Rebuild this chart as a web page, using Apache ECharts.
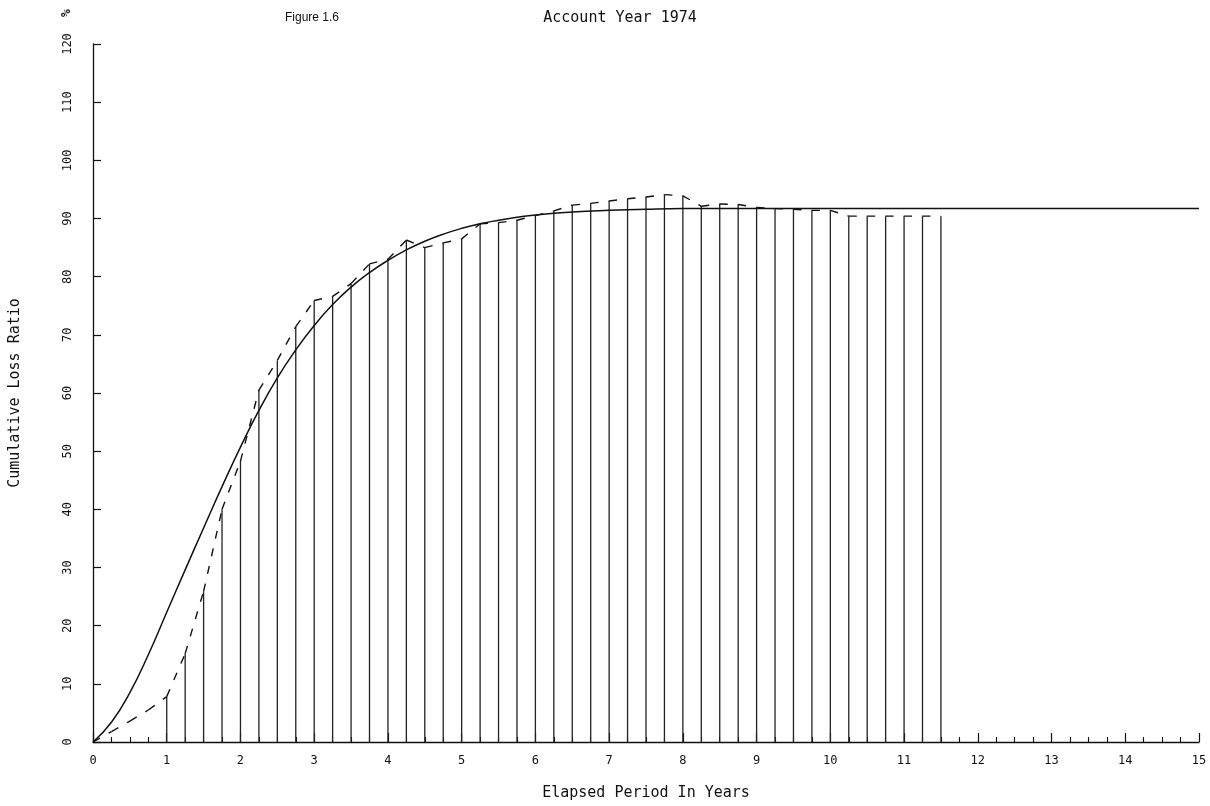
<!DOCTYPE html>
<html>
<head>
<meta charset="utf-8">
<script src="https://cdn.jsdelivr.net/npm/echarts@6/dist/echarts.min.js"></script>
<style>
html,body{margin:0;padding:0;background:#fff;}
#chart{width:1210px;height:806px;}
</style>
</head>
<body>
<div id="chart"></div>
<script>
// Observed cumulative loss ratio (dashed line), quarterly elapsed periods
var obsX = [0, 0.25, 0.5, 0.75, 1, 1.25, 1.5, 1.75, 2, 2.25, 2.5, 2.75, 3, 3.25, 3.5, 3.75,
            4, 4.25, 4.5, 4.75, 5, 5.25, 5.5, 5.75, 6, 6.25, 6.5, 6.75, 7, 7.25, 7.5, 7.75,
            8, 8.25, 8.5, 8.75, 9, 9.25, 9.5, 9.75, 10, 10.25, 10.5, 10.75, 11, 11.25, 11.5];
var obsY = [0, 1.8, 3.6, 5.5, 7.8, 15.2, 25.9, 40.0, 48.3, 60.5, 65.6, 71.4, 75.9, 76.6, 78.8, 82.2,
            83.0, 86.3, 85.0, 85.8, 86.5, 89.1, 89.3, 89.7, 90.5, 91.3, 92.3, 92.6, 93.0, 93.4, 93.7, 94.1,
            93.9, 92.1, 92.5, 92.4, 91.9, 91.7, 91.6, 91.4, 91.4, 90.4, 90.4, 90.4, 90.4, 90.4, 90.4];
// Vertical bars (quarterly observations from year 1)
var barX = [1, 1.25, 1.5, 1.75, 2, 2.25, 2.5, 2.75, 3, 3.25, 3.5, 3.75,
            4, 4.25, 4.5, 4.75, 5, 5.25, 5.5, 5.75, 6, 6.25, 6.5, 6.75, 7, 7.25, 7.5, 7.75,
            8, 8.25, 8.5, 8.75, 9, 9.25, 9.5, 9.75, 10, 10.25, 10.5, 10.75, 11, 11.25, 11.5];
var barY = [7.8, 15.2, 25.9, 40.0, 48.3, 60.5, 65.6, 71.4, 75.9, 76.6, 78.8, 82.2,
            83.0, 86.3, 85.0, 85.8, 86.5, 89.1, 89.3, 89.7, 90.5, 91.3, 92.3, 92.6, 93.0, 93.4, 93.7, 94.1,
            93.9, 92.1, 92.5, 92.4, 91.9, 91.7, 91.6, 91.4, 91.4, 90.4, 90.4, 90.4, 90.4, 90.4, 90.4];
// Fitted curve (solid line)
var fitX = [0, 0.25, 0.5, 0.75, 1, 1.25, 1.5, 1.75, 2, 2.25, 2.5, 2.75, 3, 3.25, 3.5, 3.75,
            4, 4.25, 4.5, 4.75, 5, 5.25, 5.5, 5.75, 6, 6.5, 7, 7.5, 8, 9, 10, 11, 12, 13, 14, 15];
var fitY = [0, 3.4, 8.5, 15.0, 22.3, 29.6, 36.8, 43.9, 50.7, 57.0, 62.6, 67.4, 71.6, 75.2, 78.2, 80.7,
            82.8, 84.6, 86.1, 87.3, 88.3, 89.1, 89.7, 90.2, 90.6, 91.1, 91.4, 91.6, 91.7, 91.7, 91.7, 91.7, 91.7, 91.7, 91.7, 91.7];
var yTicks = [0, 10, 20, 30, 40, 50, 60, 70, 80, 90, 100, 110, 120];
var xTicks = [0, 1, 2, 3, 4, 5, 6, 7, 8, 9, 10, 11, 12, 13, 14, 15];

var MONO = '"DejaVu Sans Mono", "Liberation Mono", monospace';

var barData = barX.map(function (x, i) { return [x, barY[i]]; });
var fitData = fitX.map(function (x, i) { return [x, fitY[i]]; });
var segData = [];
for (var i = 1; i < obsX.length; i++) {
  segData.push([obsX[i - 1], obsY[i - 1], obsX[i], obsY[i]]);
}

var chart = echarts.init(document.getElementById('chart'), null, {renderer: 'canvas'});
chart.setOption({
  backgroundColor: '#ffffff',
  animation: false,
  grid: {left: 93, right: 11, top: 44, bottom: 60, containLabel: false},
  xAxis: {
    type: 'value',
    min: xTicks[0], max: xTicks[xTicks.length - 1], interval: 1,
    name: 'Elapsed Period In Years',
    nameLocation: 'middle', nameGap: 44,
    nameTextStyle: {fontFamily: MONO, fontSize: 15, color: '#111'},
    axisLine: {show: true, onZero: false, lineStyle: {color: '#111', width: 1.3}},
    axisTick: {show: true, inside: true, length: 9, lineStyle: {color: '#111', width: 1.2}},
    minorTick: {show: true, splitNumber: 4, length: 5, lineStyle: {color: '#111', width: 1.1}},
    axisLabel: {fontFamily: MONO, fontSize: 12, color: '#111', margin: 13},
    splitLine: {show: false}
  },
  yAxis: {
    type: 'value',
    min: yTicks[0], max: yTicks[yTicks.length - 1], interval: 10,
    name: 'Cumulative Loss Ratio',
    nameLocation: 'middle', nameGap: 70,
    nameTextStyle: {fontFamily: MONO, fontSize: 15, color: '#111'},
    axisLine: {show: true, onZero: false, lineStyle: {color: '#111', width: 1.3}},
    axisTick: {show: true, inside: true, length: 8, lineStyle: {color: '#111', width: 1.2}},
    axisLabel: {fontFamily: MONO, fontSize: 12, color: '#111', rotate: 90, margin: 19},
    splitLine: {show: false}
  },
  graphic: [
    {type: 'text', x: 312, y: 18, style: {text: 'Figure 1.6', font: '12px "Liberation Sans", Arial, sans-serif', fill: '#111', align: 'center', verticalAlign: 'middle'}},
    {type: 'text', x: 620, y: 18, style: {text: 'Account Year 1974', font: '15px ' + MONO, fill: '#111', align: 'center', verticalAlign: 'middle'}},
    {type: 'text', x: 67, y: 13, rotation: Math.PI / 2, style: {text: '%', font: 'bold 13px ' + MONO, fill: '#111', align: 'center', verticalAlign: 'middle'}}
  ],
  series: [
    {
      type: 'bar',
      data: barData,
      barWidth: 1.3,
      itemStyle: {color: '#222'},
      silent: true,
      z: 2
    },
    {
      type: 'line',
      data: fitData,
      smooth: 0.5,
      showSymbol: false,
      symbol: 'none',
      lineStyle: {color: '#111', width: 1.5},
      silent: true,
      z: 3
    },
    {
      type: 'custom',
      data: segData,
      encode: {x: [0, 2], y: [1, 3]},
      silent: true,
      z: 4,
      renderItem: function (params, api) {
        var p0 = api.coord([api.value(0), api.value(1)]);
        var p1 = api.coord([api.value(2), api.value(3)]);
        return {
          type: 'line',
          shape: {x1: p0[0], y1: p0[1], x2: p1[0], y2: p1[1]},
          style: {stroke: '#111', lineWidth: 1.4, lineDash: [8, 10], fill: null}
        };
      }
    }
  ]
});
</script>
</body>
</html>
